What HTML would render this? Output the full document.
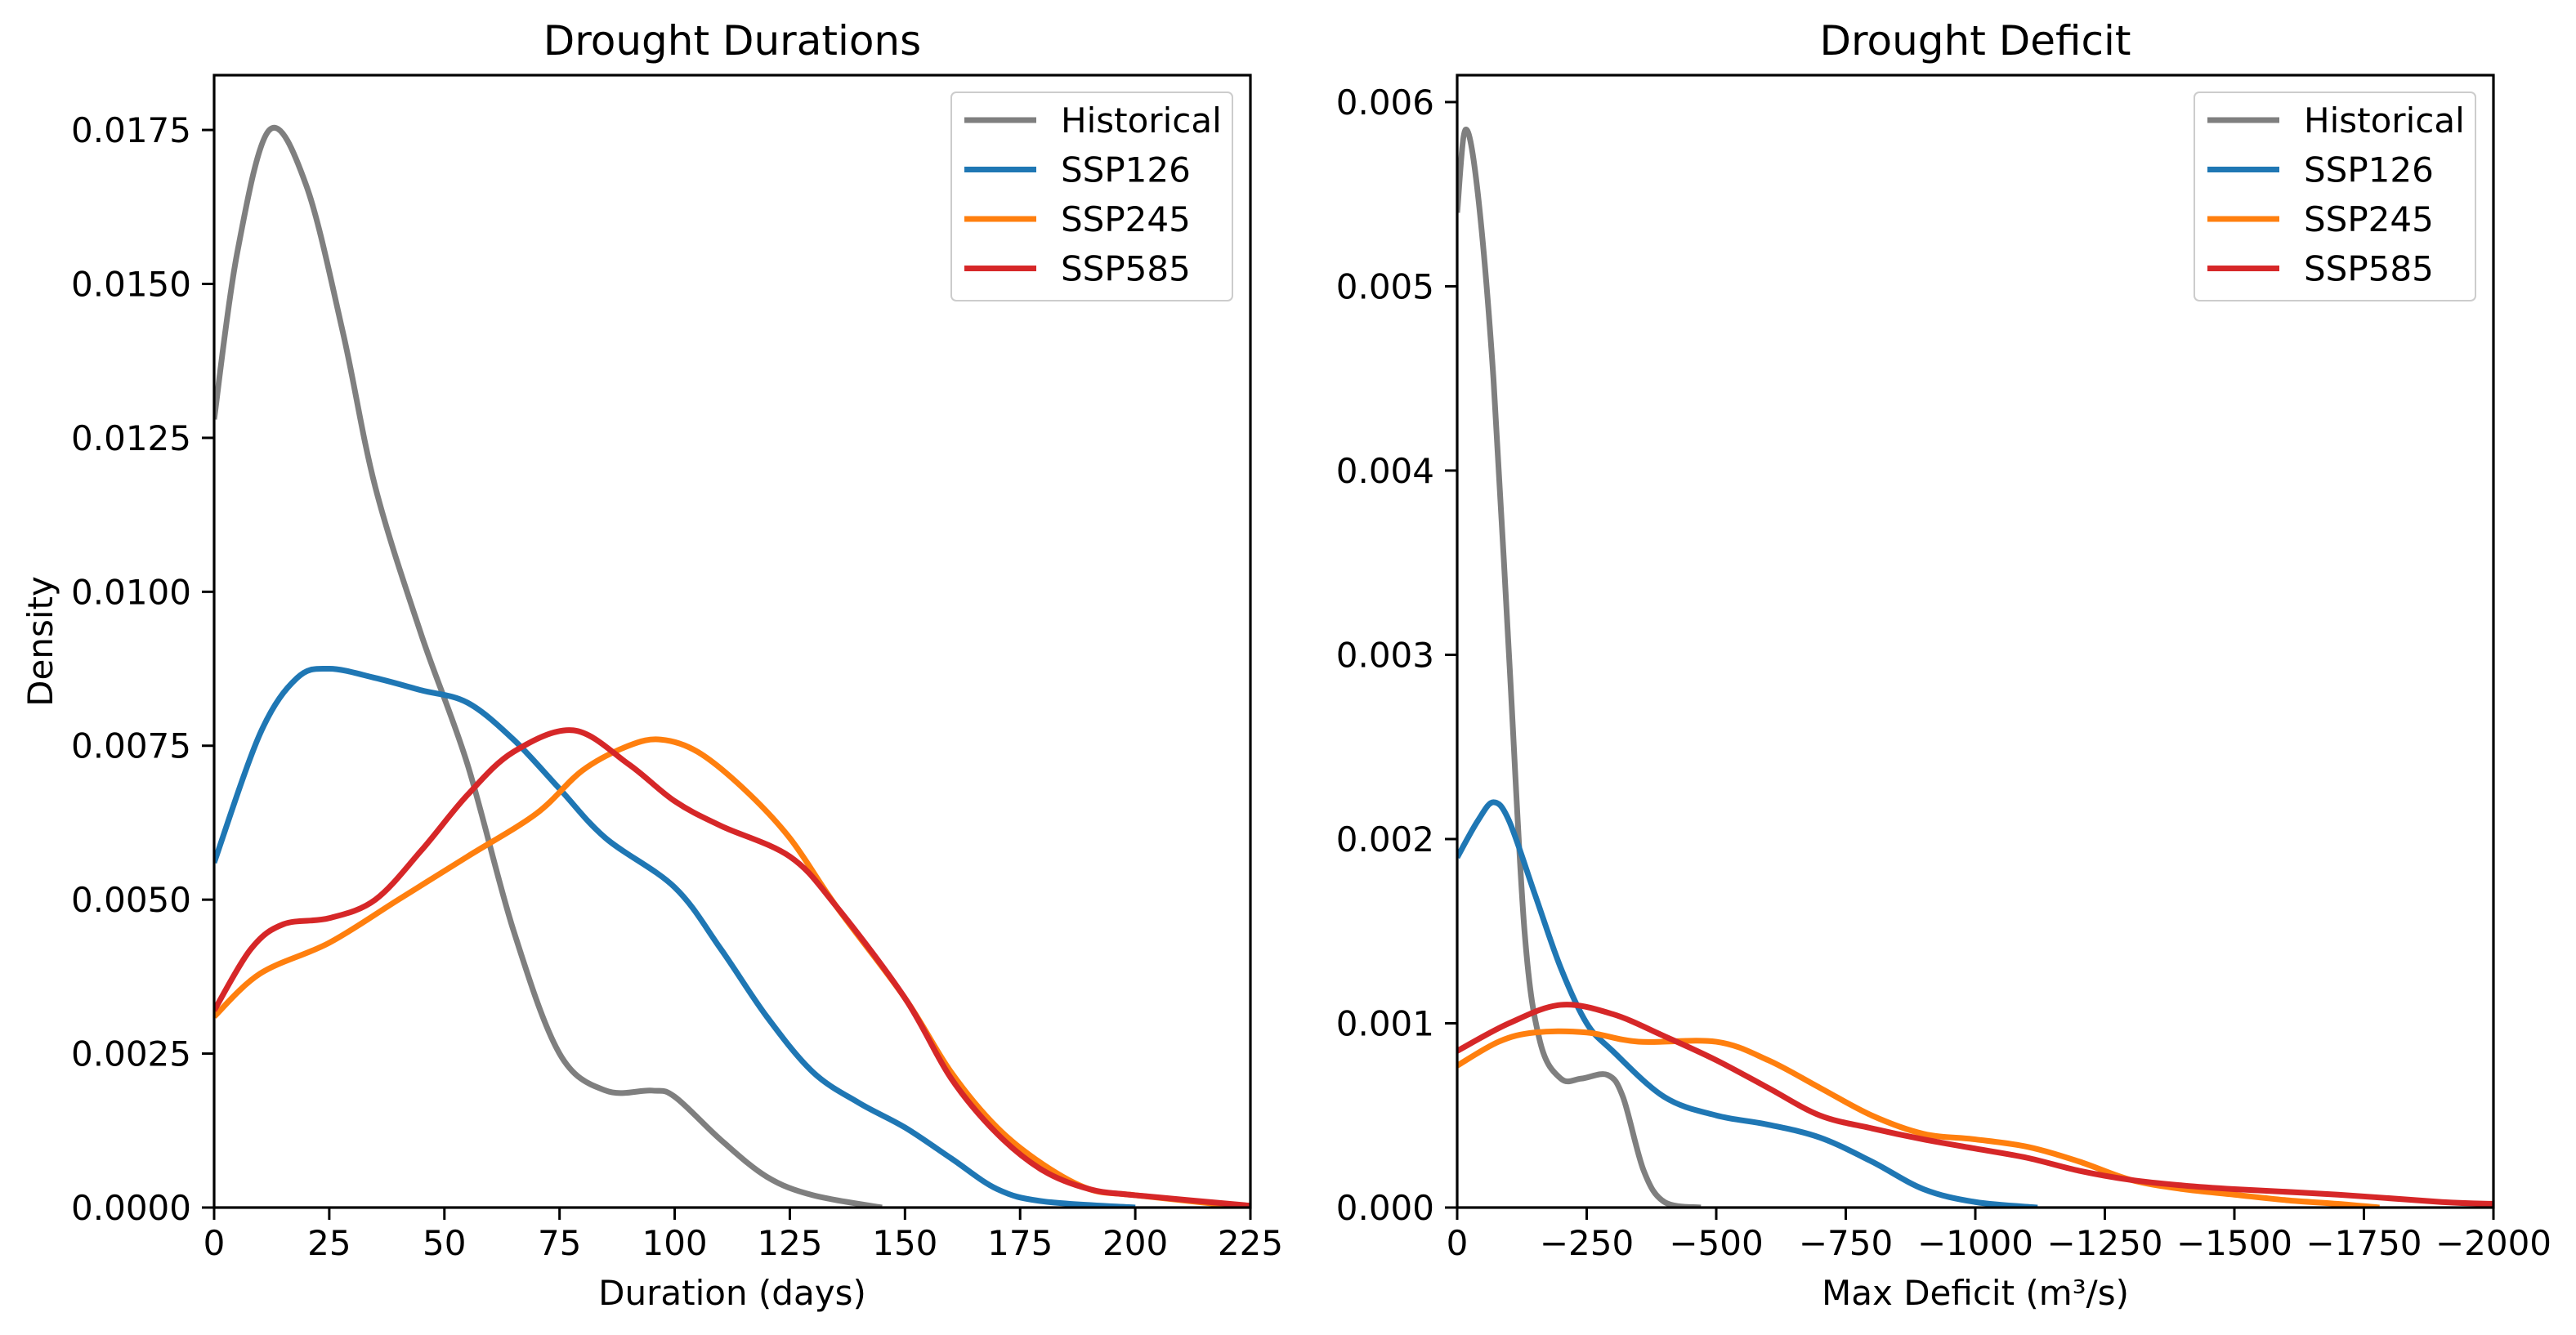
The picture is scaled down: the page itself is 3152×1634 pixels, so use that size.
<!DOCTYPE html>
<html><head><meta charset="utf-8"><style>body{margin:0;background:#fff}svg{display:block}text{font-family:"DejaVu Sans","Liberation Sans",sans-serif;fill:#000}</style></head>
<body>
<svg id="c" width="3152" height="1634" viewBox="0 0 3152 1634" xmlns="http://www.w3.org/2000/svg"></svg>
<script>
const seriesNames=["Historical","SSP126","SSP245","SSP585"];
const seriesColors=["#7f7f7f","#1f77b4","#ff7f0e","#d62728"];
const durX_hist=[0,5,12,20,28,35,45,55,65,75,85,95,100,110,120,130,145];
const durY_hist=[0.0128,0.0155,0.0175,0.0166,0.0142,0.0117,0.0093,0.0072,0.0045,0.0025,0.0019,0.0019,0.0018,0.0011,0.0005,0.0002,0.0];
const durX_126=[0,10,18,25,35,45,55,65,75,85,100,110,120,130,140,150,160,170,180,200];
const durY_126=[0.0056,0.0077,0.0086,0.00875,0.0086,0.0084,0.0082,0.0076,0.0068,0.006,0.0052,0.0042,0.0031,0.0022,0.0017,0.0013,0.0008,0.0003,0.0001,0.0];
const durX_245=[0,10,25,40,55,70,80,90,97,105,115,125,135,150,160,170,180,190,200,225];
const durY_245=[0.0031,0.0038,0.0043,0.005,0.0057,0.0064,0.0071,0.0075,0.0076,0.0074,0.0068,0.006,0.0049,0.0034,0.0022,0.0013,0.0007,0.0003,0.0002,0.0];
const durX_585=[0,8,15,25,35,45,55,65,78,90,100,110,125,135,150,160,170,180,190,200,225];
const durY_585=[0.0032,0.0042,0.0046,0.0047,0.005,0.0058,0.0067,0.0074,0.00775,0.0072,0.0066,0.0062,0.0057,0.0049,0.0034,0.0021,0.0012,0.0006,0.0003,0.0002,0.00003];
const defX_hist=[0,16,40,70,100,130,160,200,240,290,320,360,400,470];
const defY_hist=[0.0054,0.00585,0.0055,0.0045,0.003,0.0015,0.0009,0.0007,0.0007,0.00072,0.0006,0.0002,0.00003,0.0];
const defX_126=[0,40,70,100,150,200,250,300,400,500,600,700,800,900,1000,1120];
const defY_126=[0.0019,0.0021,0.0022,0.0021,0.0017,0.0013,0.001,0.00085,0.0006,0.0005,0.00045,0.00038,0.00025,0.0001,0.00003,0.0];
const defX_245=[0,80,150,250,350,500,600,700,800,900,1000,1100,1200,1300,1400,1500,1600,1700,1780];
const defY_245=[0.00077,0.0009,0.00095,0.00095,0.0009,0.0009,0.0008,0.00065,0.0005,0.0004,0.00037,0.00033,0.00025,0.00015,0.0001,0.00007,0.00004,0.00002,0.0];
const defX_585=[0,100,200,300,400,500,600,700,800,900,1000,1100,1200,1300,1400,1500,1700,1900,2000];
const defY_585=[0.00085,0.001,0.0011,0.00105,0.00093,0.0008,0.00065,0.0005,0.00043,0.00037,0.00032,0.00027,0.0002,0.00015,0.00012,0.0001,0.00007,0.00003,0.00002];
const durTicksX=[0,25,50,75,100,125,150,175,200,225];
const durTicksY=[0,0.0025,0.005,0.0075,0.01,0.0125,0.015,0.0175];
const defTicksX=[0,250,500,750,1000,1250,1500,1750,2000];
const defTicksY=[0,0.001,0.002,0.003,0.004,0.005,0.006];

const svg=document.getElementById('c');const NS="http://www.w3.org/2000/svg";
function mk(t,a,p){const e=document.createElementNS(NS,t);for(const k in a)e.setAttribute(k,a[k]);(p||svg).appendChild(e);return e;}
function txt(s,a,p){const e=mk('text',a,p);e.textContent=s;return e;}
function panel(o){
  const g=mk('g',{});
  
  
  const L=o.l,R=o.r,T=92,B=1478;
  const sx=v=>L+(v-o.x0)/(o.x1-o.x0)*(R-L);
  const sy=v=>B-v/o.y1*(B-T);
  const cp=mk('clipPath',{id:o.name+'-clip'},g);mk('rect',{x:L,y:T,width:R-L,height:B-T},cp);
  o.xs.forEach((xs,i)=>{
    const ys=o.ys[i];const P=xs.map((x,j)=>[sx(x),sy(ys[j])]);
    let d='M'+P[0][0]+','+P[0][1];
    for(let j=0;j<P.length-1;j++){const p0=P[Math.max(0,j-1)],p1=P[j],p2=P[j+1],p3=P[Math.min(P.length-1,j+2)];
      d+=`C${p1[0]+(p2[0]-p0[0])/6},${p1[1]+(p2[1]-p0[1])/6} ${p2[0]-(p3[0]-p1[0])/6},${p2[1]-(p3[1]-p1[1])/6} ${p2[0]},${p2[1]}`;}
    const pa=mk('path',{d:d,fill:'none',stroke:seriesColors[i],'stroke-width':7,'stroke-linejoin':'round','clip-path':`url(#${o.name}-clip)`},g);
    
    
  });
  mk('rect',{x:L,y:T,width:R-L,height:B-T,fill:'none',stroke:'#000','stroke-width':3.2},g);
  o.tx.forEach(v=>{const x=sx(v);mk('line',{x1:x,x2:x,y1:B,y2:B+15,stroke:'#000','stroke-width':3},g);
    const t=txt(o.fx(v),{x:x,y:B+58,'font-size':42,'text-anchor':'middle'},g);});
  o.ty.forEach(v=>{const y=sy(v);mk('line',{x1:L-15,x2:L,y1:y,y2:y,stroke:'#000','stroke-width':3},g);
    const t=txt(o.fy(v),{x:L-28,y:y+15,'font-size':42,'text-anchor':'end'},g);});
  const ti=txt(o.title,{x:(L+R)/2,y:67,'font-size':50,'text-anchor':'middle'},g);
  const xl=txt(o.xl,{x:(L+R)/2,y:1597,'font-size':42,'text-anchor':'middle'},g);
  const lg=mk('g',{},g);
  const lx=R-366,ly=113;
  mk('rect',{x:lx,y:ly,width:344,height:255,rx:6,fill:'#fff','fill-opacity':0.8,stroke:'#ccc','stroke-width':2},lg);
  seriesNames.forEach((n,i)=>{const y=ly+34+i*60.5;
    mk('line',{x1:lx+16,x2:lx+104,y1:y,y2:y,stroke:seriesColors[i],'stroke-width':7},lg);
    const t=txt(n,{x:lx+134,y:y+15,'font-size':42},lg);});
}
panel({name:'durations-panel',l:262,r:1530,x0:0,x1:225,y1:0.01839,xs:[durX_hist,durX_126,durX_245,durX_585],ys:[durY_hist,durY_126,durY_245,durY_585],tx:durTicksX,ty:durTicksY,fx:v=>String(v),fy:v=>v.toFixed(4),title:'Drought Durations',xl:'Duration (days)'});
panel({name:'deficit-panel',l:1783,r:3051,x0:0,x1:2000,y1:0.006146,xs:[defX_hist,defX_126,defX_245,defX_585],ys:[defY_hist,defY_126,defY_245,defY_585],tx:defTicksX,ty:defTicksY,fx:v=>v===0?'0':'\u2212'+v,fy:v=>v.toFixed(3),title:'Drought Deficit',xl:'Max Deficit (m\u00b3/s)'});
const yl=txt('Density',{x:0,y:0,'font-size':42,'text-anchor':'middle',transform:'translate(64,785) rotate(-90)'});


</script>
</body></html>
